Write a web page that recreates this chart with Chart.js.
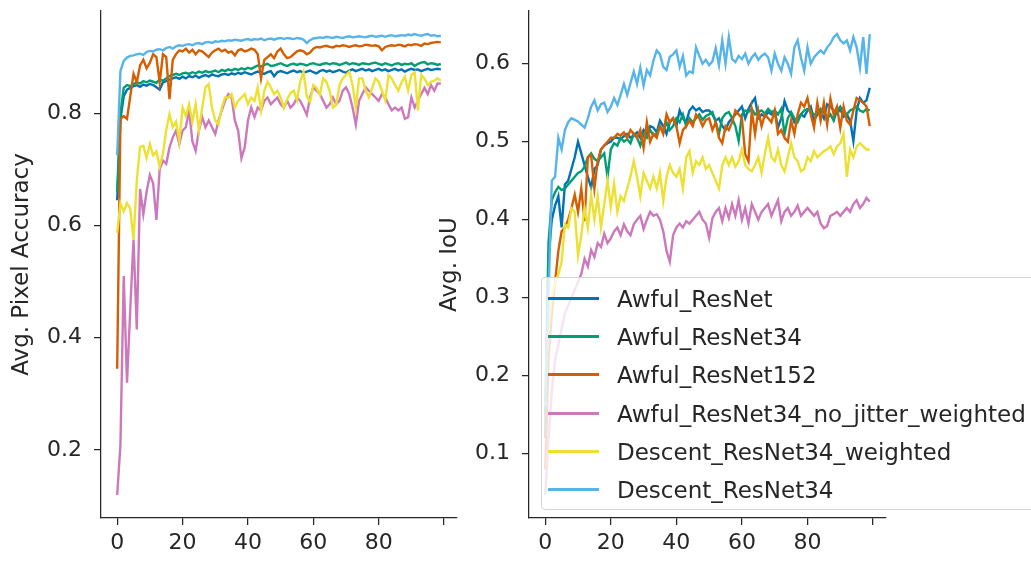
<!DOCTYPE html>
<html>
<head>
<meta charset="utf-8">
<script src="https://cdn.jsdelivr.net/npm/chart.js@4.4.1/dist/chart.umd.min.js"></script>
<style>
  body { margin: 0; width: 1031px; height: 563px; overflow: hidden; background: #fff; position: relative; font-family: 'DejaVu Sans', sans-serif; }
  #left { position: absolute; left: 0; top: 0; }
  #right { position: absolute; left: 430px; top: 0; }
  #legend { position: absolute; left: 541px; top: 277px; width: 520px; height: 233px; box-sizing: border-box;
    background: rgba(255,255,255,0.8); border: 1px solid #d4d4d4; border-radius: 4px; }
  .row { position: absolute; left: 0; height: 30px; width: 100%; }
  .swatch { position: absolute; left: 6px; top: 13px; width: 51px; height: 3px; }
  .lbl { position: absolute; left: 75px; top: 0; line-height: 30px; font-size: 23px; color: #262626; white-space: nowrap; }
</style>
</head>
<body>
<canvas id="left" width="470" height="563"></canvas>
<canvas id="right" width="470" height="563"></canvas>
<div id="legend"></div>
<script>
// Training curves: average pixel accuracy (left) and average IoU (right), 100 epochs
// ================================================================================
let epochs = Array.from({length: 100}, (d, i) => i);

let series_names = ["Awful_ResNet", "Awful_ResNet34", "Awful_ResNet152",
	"Awful_ResNet34_no_jitter_weighted", "Descent_ResNet34_weighted", "Descent_ResNet34"];
let series_colors = ["#0173b2", "#029e73", "#d55e00", "#cc78bc", "#ece133", "#56b4e9"];

let x_ticks = [0, 20, 40, 60, 80, 100];
let acc_ticks = [0.2, 0.4, 0.6, 0.8];
let iou_ticks = [0.1, 0.2, 0.3, 0.4, 0.5, 0.6];

// Avg. Pixel Accuracy
let acc_awful_resnet = [0.645, 0.79, 0.83, 0.842, 0.845, 0.848, 0.85, 0.847, 0.851, 0.849,
	0.852, 0.85, 0.846, 0.842, 0.855, 0.857, 0.86, 0.862, 0.864, 0.861,
	0.865, 0.862, 0.866, 0.864, 0.867, 0.863, 0.866, 0.868, 0.865, 0.869,
	0.867, 0.866, 0.869, 0.87, 0.868, 0.871, 0.869, 0.872, 0.87, 0.873,
	0.871, 0.869, 0.872, 0.874, 0.872, 0.87, 0.873, 0.875, 0.866, 0.873,
	0.875, 0.873, 0.871, 0.874, 0.876, 0.873, 0.875, 0.872, 0.874, 0.876,
	0.873, 0.871, 0.875, 0.877, 0.874, 0.876, 0.873, 0.875, 0.877, 0.874,
	0.872, 0.876, 0.878, 0.875, 0.877, 0.879, 0.876, 0.878, 0.875, 0.877,
	0.879, 0.876, 0.878, 0.875, 0.877, 0.879, 0.876, 0.878, 0.874, 0.877,
	0.879, 0.877, 0.878, 0.875, 0.877, 0.879, 0.877, 0.878, 0.879, 0.878];
let acc_awful_resnet34 = [0.66, 0.80, 0.845, 0.85, 0.848, 0.852, 0.855, 0.853, 0.857, 0.855,
	0.858, 0.856, 0.854, 0.86, 0.858, 0.862, 0.866, 0.868, 0.87, 0.868,
	0.871, 0.872, 0.87, 0.873, 0.871, 0.874, 0.872, 0.875, 0.873, 0.874,
	0.876, 0.873, 0.877, 0.875, 0.878, 0.876, 0.879, 0.877, 0.88, 0.878,
	0.881, 0.879, 0.882, 0.885, 0.883, 0.886, 0.888, 0.884, 0.885, 0.887,
	0.889, 0.886, 0.884, 0.887, 0.888, 0.886, 0.888, 0.887, 0.885, 0.888,
	0.889, 0.887, 0.886, 0.888, 0.889, 0.887, 0.889, 0.888, 0.886, 0.888,
	0.89, 0.887, 0.889, 0.888, 0.886, 0.889, 0.888, 0.887, 0.889, 0.89,
	0.888, 0.886, 0.889, 0.887, 0.885, 0.888, 0.889, 0.886, 0.888, 0.887,
	0.889, 0.884, 0.888, 0.89, 0.891, 0.887, 0.889, 0.888, 0.886, 0.888];
let acc_awful_resnet152 = [0.345, 0.79, 0.795, 0.79, 0.83, 0.87, 0.855, 0.885, 0.895, 0.88,
	0.89, 0.905, 0.9, 0.855, 0.905, 0.9, 0.825, 0.895, 0.905, 0.912,
	0.91, 0.915, 0.908, 0.913, 0.905, 0.912, 0.91, 0.905, 0.9, 0.908,
	0.912, 0.915, 0.91, 0.913, 0.908, 0.91, 0.903, 0.912, 0.914, 0.91,
	0.912, 0.915, 0.913, 0.905, 0.862, 0.895, 0.9, 0.905, 0.898, 0.91,
	0.915, 0.905, 0.898, 0.9, 0.905, 0.91, 0.912, 0.91, 0.905, 0.908,
	0.915, 0.918, 0.917, 0.919, 0.92, 0.918, 0.917, 0.92, 0.919, 0.921,
	0.92, 0.918, 0.92, 0.921, 0.919, 0.92, 0.922, 0.921, 0.92, 0.921,
	0.919, 0.912, 0.918, 0.92, 0.921, 0.92, 0.922, 0.921, 0.919, 0.922,
	0.921, 0.923, 0.922, 0.92, 0.924, 0.923, 0.925, 0.926, 0.927, 0.926];
let acc_no_jitter_weighted = [0.12, 0.21, 0.51, 0.32, 0.45, 0.575, 0.415, 0.665, 0.62, 0.66,
	0.69, 0.675, 0.61, 0.70, 0.716, 0.71, 0.739, 0.757, 0.769, 0.745,
	0.769, 0.775, 0.805, 0.75, 0.733, 0.769, 0.793, 0.775, 0.787, 0.775,
	0.763, 0.787, 0.805, 0.822, 0.834, 0.828, 0.787, 0.769, 0.72, 0.739,
	0.787, 0.81, 0.793, 0.81, 0.805, 0.822, 0.828, 0.816, 0.822, 0.828,
	0.816, 0.81, 0.822, 0.81, 0.816, 0.828, 0.822, 0.81, 0.797, 0.828,
	0.846, 0.84, 0.834, 0.822, 0.81, 0.816, 0.828, 0.816, 0.822, 0.84,
	0.846, 0.834, 0.81, 0.78, 0.822, 0.834, 0.846, 0.84, 0.834, 0.828,
	0.822, 0.834, 0.828, 0.816, 0.805, 0.81, 0.805, 0.81, 0.79, 0.793,
	0.828, 0.81, 0.822, 0.834, 0.845, 0.834, 0.85, 0.84, 0.853, 0.853];
let acc_descent_weighted = [0.587, 0.64, 0.625, 0.64, 0.63, 0.575, 0.68, 0.74, 0.742, 0.72,
	0.745, 0.725, 0.732, 0.705, 0.728, 0.77, 0.798, 0.775, 0.785, 0.75,
	0.81, 0.795, 0.816, 0.785, 0.816, 0.77, 0.81, 0.846, 0.852, 0.81,
	0.787, 0.78, 0.81, 0.828, 0.828, 0.834, 0.81, 0.822, 0.828, 0.834,
	0.816, 0.828, 0.822, 0.846, 0.805, 0.84, 0.856, 0.846, 0.834, 0.84,
	0.828, 0.81, 0.825, 0.836, 0.84, 0.823, 0.857, 0.874, 0.83, 0.82,
	0.85, 0.845, 0.833, 0.862, 0.856, 0.84, 0.81, 0.815, 0.85, 0.862,
	0.868, 0.874, 0.85, 0.81, 0.862, 0.862, 0.84, 0.828, 0.845, 0.862,
	0.856, 0.84, 0.823, 0.868, 0.862, 0.85, 0.84, 0.855, 0.865, 0.84,
	0.868, 0.873, 0.805, 0.868, 0.862, 0.85, 0.856, 0.858, 0.862, 0.858];
let acc_descent = [0.725, 0.875, 0.893, 0.899, 0.902, 0.903, 0.905, 0.906, 0.904, 0.909,
	0.911, 0.91, 0.913, 0.914, 0.912, 0.916, 0.918, 0.915, 0.919, 0.921,
	0.92, 0.922, 0.923, 0.921, 0.924, 0.925, 0.923, 0.926, 0.927, 0.925,
	0.928, 0.927, 0.929, 0.928, 0.93, 0.929, 0.931, 0.93, 0.929, 0.931,
	0.932, 0.93, 0.932, 0.931, 0.933, 0.93, 0.932, 0.933, 0.931, 0.933,
	0.934, 0.932, 0.934, 0.933, 0.932, 0.934, 0.933, 0.931, 0.925, 0.93,
	0.933, 0.934, 0.935, 0.934, 0.936, 0.935, 0.934, 0.936, 0.935, 0.934,
	0.936, 0.937, 0.935, 0.936, 0.937, 0.936, 0.935, 0.937, 0.938, 0.936,
	0.937, 0.938, 0.936, 0.938, 0.939, 0.937, 0.938, 0.939, 0.938, 0.94,
	0.939, 0.941, 0.939, 0.938, 0.94, 0.941, 0.938, 0.939, 0.937, 0.938];

// Avg. IoU
let iou_awful_resnet = [0.12, 0.35, 0.40, 0.418, 0.43, 0.39, 0.445, 0.45, 0.465, 0.48,
	0.50, 0.485, 0.47, 0.455, 0.441, 0.465, 0.47, 0.49, 0.495, 0.498,
	0.50, 0.505, 0.505, 0.503, 0.507, 0.51, 0.505, 0.508, 0.512, 0.505,
	0.515, 0.51, 0.52, 0.518, 0.512, 0.527, 0.52, 0.51, 0.525, 0.53,
	0.52, 0.54, 0.53, 0.525, 0.54, 0.545, 0.54, 0.543, 0.538, 0.54,
	0.54, 0.535, 0.527, 0.53, 0.52, 0.515, 0.525, 0.53, 0.535, 0.54,
	0.545, 0.53, 0.542, 0.55, 0.556, 0.53, 0.535, 0.532, 0.538, 0.535,
	0.54, 0.518, 0.53, 0.552, 0.54, 0.536, 0.525, 0.53, 0.535, 0.532,
	0.54, 0.545, 0.527, 0.535, 0.538, 0.53, 0.548, 0.545, 0.54, 0.536,
	0.542, 0.532, 0.535, 0.527, 0.501, 0.54, 0.556, 0.55, 0.553, 0.569];
let iou_awful_resnet34 = [0.15, 0.37, 0.425, 0.435, 0.442, 0.438, 0.44, 0.445, 0.45, 0.455,
	0.46, 0.462, 0.468, 0.48, 0.485, 0.478, 0.475, 0.48, 0.485, 0.455,
	0.49, 0.498, 0.495, 0.505, 0.50, 0.503, 0.498, 0.51, 0.505, 0.495,
	0.51, 0.505, 0.515, 0.508, 0.51, 0.52, 0.512, 0.525, 0.515, 0.52,
	0.53, 0.525, 0.535, 0.52, 0.53, 0.525, 0.53, 0.535, 0.528, 0.533,
	0.535, 0.538, 0.525, 0.51, 0.53, 0.536, 0.538, 0.53, 0.52, 0.501,
	0.535, 0.54, 0.538, 0.542, 0.535, 0.538, 0.54, 0.536, 0.542, 0.538,
	0.54, 0.535, 0.542, 0.51, 0.53, 0.538, 0.53, 0.525, 0.535, 0.54,
	0.542, 0.538, 0.535, 0.536, 0.542, 0.538, 0.53, 0.535, 0.527, 0.54,
	0.545, 0.538, 0.535, 0.54, 0.542, 0.545, 0.54, 0.538, 0.542, 0.54];
let iou_awful_resnet152 = [0.08, 0.22, 0.28, 0.32, 0.36, 0.385, 0.39, 0.40, 0.415, 0.432,
	0.41, 0.44, 0.398, 0.48, 0.483, 0.44, 0.475, 0.49, 0.495, 0.50,
	0.505, 0.505, 0.51, 0.508, 0.512, 0.505, 0.515, 0.51, 0.505, 0.515,
	0.492, 0.525, 0.50, 0.51, 0.505, 0.52, 0.51, 0.535, 0.525, 0.53,
	0.52, 0.498, 0.515, 0.52, 0.527, 0.52, 0.535, 0.53, 0.52, 0.528,
	0.53, 0.515, 0.525, 0.505, 0.498, 0.52, 0.515, 0.525, 0.54, 0.535,
	0.53, 0.484, 0.475, 0.54, 0.51, 0.54, 0.52, 0.535, 0.53, 0.525,
	0.54, 0.51, 0.515, 0.505, 0.50, 0.527, 0.51, 0.535, 0.55, 0.545,
	0.556, 0.535, 0.518, 0.55, 0.527, 0.55, 0.522, 0.555, 0.535, 0.545,
	0.518, 0.545, 0.527, 0.522, 0.54, 0.556, 0.553, 0.55, 0.545, 0.52];
let iou_no_jitter_weighted = [0.047, 0.12, 0.18, 0.22, 0.24, 0.26, 0.28, 0.29, 0.30, 0.31,
	0.32, 0.33, 0.35, 0.34, 0.361, 0.352, 0.37, 0.365, 0.382, 0.37,
	0.376, 0.385, 0.39, 0.38, 0.394, 0.385, 0.38, 0.394, 0.40, 0.405,
	0.388, 0.40, 0.41, 0.405, 0.407, 0.40, 0.385, 0.36, 0.346, 0.38,
	0.39, 0.395, 0.39, 0.398, 0.395, 0.40, 0.405, 0.41, 0.40, 0.395,
	0.377, 0.402, 0.41, 0.415, 0.398, 0.415, 0.402, 0.42, 0.405, 0.425,
	0.40, 0.415, 0.395, 0.42, 0.41, 0.40, 0.41, 0.415, 0.42, 0.405,
	0.415, 0.425, 0.398, 0.41, 0.415, 0.405, 0.41, 0.418, 0.405, 0.41,
	0.415, 0.41, 0.405, 0.41, 0.395, 0.389, 0.392, 0.405, 0.407, 0.41,
	0.405, 0.41, 0.415, 0.41, 0.42, 0.425, 0.415, 0.42, 0.428, 0.423];
let iou_descent_weighted = [0.20, 0.26, 0.30, 0.32, 0.33, 0.346, 0.394, 0.39, 0.415, 0.41,
	0.354, 0.38, 0.415, 0.39, 0.432, 0.40, 0.43, 0.39, 0.42, 0.45,
	0.416, 0.446, 0.41, 0.43, 0.424, 0.44, 0.455, 0.475, 0.455, 0.43,
	0.46, 0.45, 0.44, 0.455, 0.44, 0.46, 0.424, 0.455, 0.47, 0.46,
	0.455, 0.465, 0.44, 0.48, 0.488, 0.46, 0.475, 0.47, 0.48, 0.465,
	0.47, 0.46, 0.45, 0.44, 0.47, 0.48, 0.47, 0.48, 0.468, 0.475,
	0.49, 0.47, 0.465, 0.462, 0.47, 0.48, 0.46, 0.485, 0.505, 0.48,
	0.475, 0.49, 0.47, 0.462, 0.48, 0.498, 0.48, 0.475, 0.462, 0.465,
	0.48, 0.475, 0.488, 0.48, 0.484, 0.488, 0.49, 0.494, 0.484, 0.494,
	0.498, 0.51, 0.455, 0.49, 0.48, 0.494, 0.498, 0.494, 0.49, 0.49];
let iou_descent = [0.16, 0.30, 0.45, 0.455, 0.505, 0.49, 0.515, 0.525, 0.53, 0.528,
	0.526, 0.522, 0.518, 0.53, 0.545, 0.553, 0.54, 0.548, 0.55, 0.538,
	0.545, 0.556, 0.547, 0.56, 0.574, 0.56, 0.575, 0.59, 0.574, 0.595,
	0.572, 0.592, 0.585, 0.604, 0.617, 0.612, 0.596, 0.592, 0.609, 0.612,
	0.617, 0.596, 0.61, 0.585, 0.59, 0.588, 0.621, 0.61, 0.60, 0.605,
	0.598, 0.603, 0.62, 0.598, 0.63, 0.60, 0.634, 0.606, 0.602, 0.61,
	0.606, 0.613, 0.60, 0.608, 0.613, 0.605, 0.61, 0.613, 0.608, 0.591,
	0.613, 0.60, 0.591, 0.608, 0.60, 0.587, 0.621, 0.63, 0.608, 0.591,
	0.621, 0.60, 0.608, 0.613, 0.617, 0.613, 0.621, 0.626, 0.634, 0.638,
	0.63, 0.626, 0.63, 0.617, 0.634, 0.621, 0.595, 0.634, 0.587, 0.638];

let acc_series = [acc_awful_resnet, acc_awful_resnet34, acc_awful_resnet152,
	acc_no_jitter_weighted, acc_descent_weighted, acc_descent];
let iou_series = [iou_awful_resnet, iou_awful_resnet34, iou_awful_resnet152,
	iou_no_jitter_weighted, iou_descent_weighted, iou_descent];


// Charts
// ================================================================================
let ink = '#262626';
let tick_font = {family: "'DejaVu Sans'", size: 22};

let make_datasets = (series_list) => series_list.map((values, i) => ({
	label: series_names[i],
	data: values.map((v, j) => ({x: epochs[j], y: v})),
	borderColor: series_colors[i],
	borderWidth: 2.4,
	pointRadius: 0,
	tension: 0,
	fill: false,
	order: series_list.length - 1 - i   // last series on top, like matplotlib
}));

let make_chart = (canvas_id, series_list, y_min, y_max, y_ticks, y_title, axis_width, title_pad, right_pad) => {
	return new Chart(document.getElementById(canvas_id), {
		type: 'line',
		data: {datasets: make_datasets(series_list)},
		options: {
			responsive: false,
			animation: false,
			layout: {padding: {top: 11, right: right_pad, left: 0, bottom: 0}},
			plugins: {legend: {display: false}, tooltip: {enabled: false}},
			scales: {
				x: {
					type: 'linear',
					min: -4.95,
					max: 103.95,
					afterBuildTicks: (scale) => { scale.ticks = x_ticks.map(v => ({value: v})); },
					afterFit: (scale) => {
						scale.height = 45;
						scale.paddingLeft = 0;
						scale.paddingRight = 0;
					},
					ticks: {
						autoSkip: false, maxRotation: 0, color: ink, font: tick_font, padding: 5,
						callback: (v) => v === 100 ? '' : String(v)
					},
					grid: {drawOnChartArea: false, drawTicks: true, tickLength: 7, color: ink, lineWidth: 1.25},
					border: {display: true, color: ink, width: 1.25}
				},
				y: {
					type: 'linear',
					min: y_min,
					max: y_max,
					afterBuildTicks: (scale) => { scale.ticks = y_ticks.map(v => ({value: v})); },
					afterFit: (scale) => {
						scale.width = axis_width;
						scale.paddingTop = 0;
						scale.paddingBottom = 0;
					},
					ticks: {
						color: ink, font: tick_font, padding: 12,
						callback: (v) => v.toFixed(1)
					},
					title: {
						display: true, text: y_title, color: ink,
						font: {family: "'DejaVu Sans'", size: 23},
						padding: {top: title_pad, bottom: 0}
					},
					grid: {drawOnChartArea: false, drawTicks: true, tickLength: 7, color: ink, lineWidth: 1.25},
					border: {display: true, color: ink, width: 1.25}
				}
			}
		}
	});
};

let acc_chart = make_chart('left', acc_series, 0.079, 0.982, acc_ticks, 'Avg. Pixel Accuracy', 101, 8, 13);
let iou_chart = make_chart('right', iou_series, 0.0174, 0.6676, iou_ticks, 'Avg. IoU', 99, 6, 14);


// Legend (overlaps the IoU axes, semi-transparent like matplotlib's)
// ================================================================================
let legend = document.getElementById('legend');
series_names.forEach((name, i) => {
	let row = document.createElement('div');
	row.className = 'row';
	row.style.top = (6 + i * 38.2) + 'px';
	row.innerHTML = '<div class="swatch" style="background:' + series_colors[i] + '"></div>' +
		'<div class="lbl">' + name + '</div>';
	legend.appendChild(row);
});
</script>
</body>
</html>
